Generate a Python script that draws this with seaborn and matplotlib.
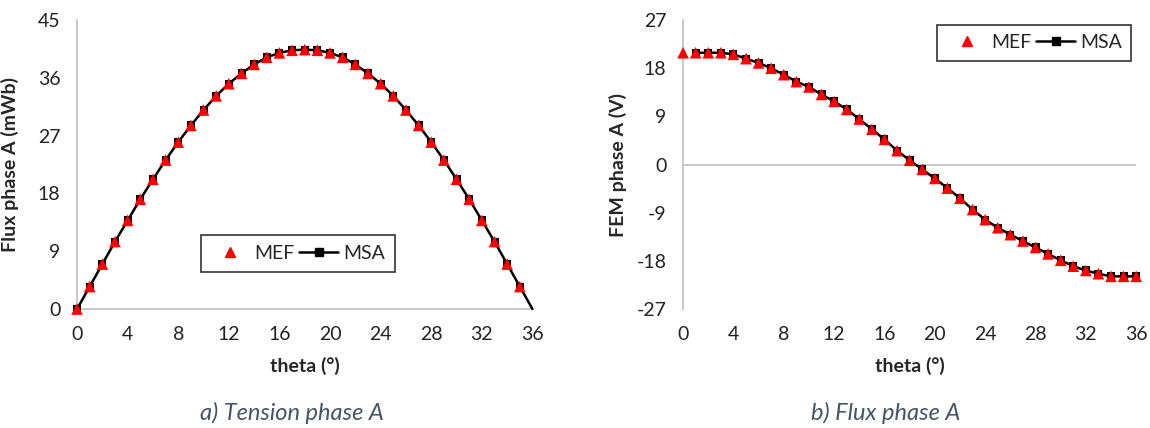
import numpy as np
import pandas as pd
import matplotlib
matplotlib.use("Agg")
import matplotlib.pyplot as plt
import seaborn as sns
from matplotlib.lines import Line2D

# angle (degrees)
theta = list(range(0, 37))

# a) flux phase A (mWb)
flux_mef = [0.0, 3.5, 7.0, 10.5, 13.8, 17.1, 20.2, 23.2, 26.0, 28.6, 31.0, 33.2,
            35.1, 36.7, 38.1, 39.2, 39.9, 40.3, 40.4, 40.3, 39.9, 39.2, 38.1, 36.7,
            35.1, 33.2, 31.0, 28.6, 26.0, 23.2, 20.2, 17.1, 13.8, 10.5, 7.0, 3.5, 0.0]
flux_msa = [0.0, 3.5, 7.0, 10.5, 13.8, 17.1, 20.2, 23.2, 26.0, 28.6, 31.0, 33.2,
            35.1, 36.7, 38.1, 39.2, 39.9, 40.3, 40.4, 40.3, 39.9, 39.2, 38.1, 36.7,
            35.1, 33.2, 31.0, 28.6, 26.0, 23.2, 20.2, 17.1, 13.8, 10.5, 7.0, 3.5, 0.0]

# b) FEM phase A (V)
fem_mef = [20.9, 20.9, 20.9, 20.9, 20.6, 19.8, 19.0, 18.0, 16.8, 15.5, 14.5, 13.1,
           11.8, 10.3, 8.5, 6.6, 4.7, 2.6, 0.8, -0.9, -2.6, -4.4, -6.3, -8.4,
           -10.3, -11.8, -13.1, -14.3, -15.5, -16.7, -17.9, -19.0, -19.8, -20.4,
           -20.9, -20.9, -20.9]
fem_msa = [None, 20.9, 20.9, 20.9, 20.6, 19.8, 19.0, 18.0, 16.8, 15.5, 14.5, 13.1,
           11.8, 10.3, 8.5, 6.6, 4.7, 2.6, 0.8, -0.9, -2.6, -4.4, -6.3, -8.4,
           -10.3, -11.8, -13.1, -14.3, -15.5, -16.7, -17.9, -19.0, -19.8, -20.4,
           -20.9, -20.9, -20.9]

x_ticks = [0, 4, 8, 12, 16, 20, 24, 28, 32, 36]
flux_ticks = [0, 9, 18, 27, 36, 45]
fem_ticks = [-27, -18, -9, 0, 9, 18, 27]

sns.set_style("white")
plt.rcParams['font.family'] = ['Lato', 'DejaVu Sans']
plt.rcParams['axes.unicode_minus'] = False

GRAY = '#BFBFBF'
CAPTION = '#44546A'
FS = 14

fig = plt.figure(figsize=(11.5, 4.28), dpi=100)
ax1 = fig.add_axes([0.067, 0.278, 0.396, 0.675])
ax2 = fig.add_axes([0.594, 0.278, 0.394, 0.675])

df_flux = pd.DataFrame({'theta': theta, 'MEF': flux_mef, 'MSA': flux_msa})
df_fem = pd.DataFrame({'theta': theta, 'MEF': fem_mef, 'MSA': fem_msa}).astype(float)


def draw(ax, df, ylabel, yticks, mark_last=True):
    d = df.dropna(subset=['MSA'])
    sns.lineplot(data=d, x='theta', y='MSA', ax=ax, color='black', lw=1.8,
                 marker='s', markersize=6, markeredgewidth=0, clip_on=False,
                 markevery=None if mark_last else list(range(len(d) - 1)),
                 zorder=3)
    dm = df.dropna(subset=['MEF'])
    if not mark_last:
        dm = dm.iloc[:-1]
    sns.scatterplot(data=dm, x='theta', y='MEF', ax=ax, color='red', marker='^',
                    s=70, edgecolor='none', clip_on=False, zorder=4)
    ax.set_xlim(0, 36)
    ax.set_ylim(yticks[0], yticks[-1])
    ax.set_xticks(x_ticks)
    ax.set_yticks(yticks)
    ax.tick_params(length=0, labelsize=FS, pad=12, colors='#222222')
    ax.set_xlabel('theta (°)', fontsize=FS, fontweight='bold', labelpad=10)
    ax.set_ylabel(ylabel, fontsize=FS, fontweight='bold')
    for s in ['top', 'right']:
        ax.spines[s].set_visible(False)
    ax.spines['left'].set_color(GRAY)
    ax.spines['left'].set_linewidth(1.2)


draw(ax1, df_flux, 'Flux phase A (mWb)', flux_ticks, mark_last=False)
ax1.spines['bottom'].set_color(GRAY)
ax1.spines['bottom'].set_linewidth(1.2)
ax1.yaxis.set_label_coords(-0.128, 0.5)

draw(ax2, df_fem, 'FEM phase A (V)', fem_ticks)
ax2.spines['bottom'].set_visible(False)
ax2.axhline(0, color=GRAY, lw=1.2, zorder=1)
ax2.yaxis.set_label_coords(-0.124, 0.5)

handles = [Line2D([], [], color='red', marker='^', ls='none', markersize=7),
           Line2D([], [], color='black', marker='s', lw=1.8, markersize=6)]
for ax, loc in [(ax1, (0.25, 0.095)), (ax2, (0.54, 0.825))]:
    leg = ax.legend(handles, ['MEF', 'MSA'], ncol=2, loc='lower left',
                    bbox_to_anchor=loc, frameon=True, fancybox=False,
                    fontsize=FS, handlelength=2.0, columnspacing=0.25,
                    handletextpad=0.25, borderpad=0.5)
    leg.get_frame().set_edgecolor('black')
    leg.get_frame().set_linewidth(1.2)

fig.text(0.254, 0.035, 'a) Tension phase A', fontsize=17, style='italic',
         color=CAPTION, ha='center', va='center')
fig.text(0.77, 0.035, 'b) Flux phase A', fontsize=17, style='italic',
         color=CAPTION, ha='center', va='center')

fig.savefig('out.png', dpi=100)
